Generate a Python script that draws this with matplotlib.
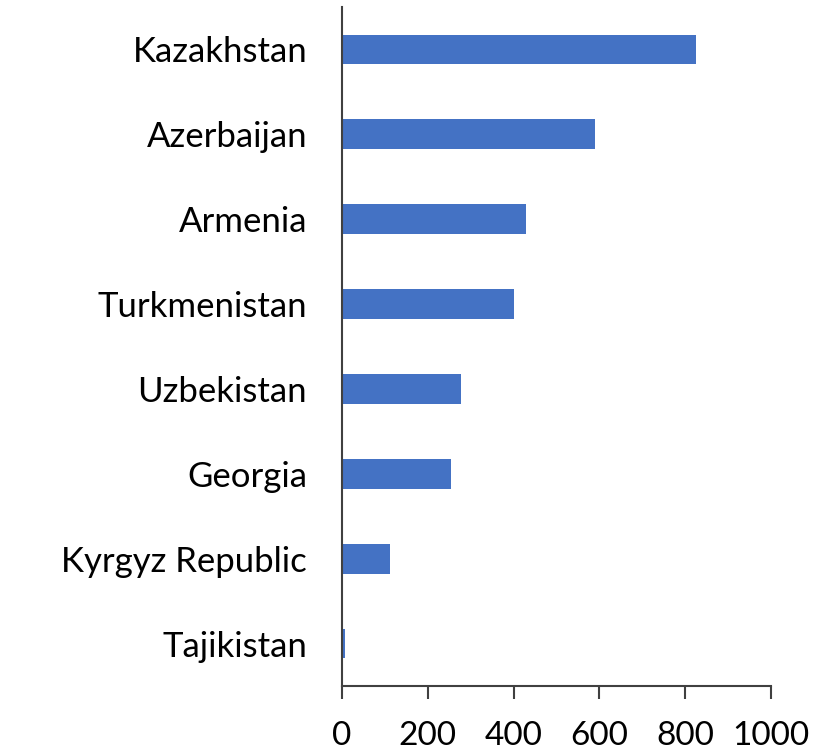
import matplotlib.pyplot as plt

# ── Data ──────────────────────────────────────
countries = ["Kazakhstan", "Azerbaijan", "Armenia", "Turkmenistan",
             "Uzbekistan", "Georgia", "Kyrgyz Republic", "Tajikistan"]
values = [825, 590, 429, 401, 277, 254, 112, 7]
xticks = [0, 200, 400, 600, 800, 1000]

plt.rcParams["font.family"] = ["Lato", "DejaVu Sans"]

fig = plt.figure(figsize=(8.18, 7.5), dpi=100)
ax = fig.add_axes([0.418, 0.0853, 0.5245, 0.9054])

pos = list(range(len(countries)))[::-1]
ax.barh(pos, values, height=0.35, color="#4472C4")

ax.set_xlim(0, 1000)
ax.set_ylim(-0.5, len(countries) - 0.5)
ax.set_yticks(pos)
ax.set_yticklabels(countries, fontsize=25)
ax.set_xticks(xticks)
ax.set_xticklabels([str(t) for t in xticks], fontsize=24)

ax.tick_params(axis="y", length=0, pad=25)
ax.tick_params(axis="x", direction="out", length=9, width=1.5, color="#404040", pad=16)

for side in ["top", "right"]:
    ax.spines[side].set_visible(False)
for side in ["left", "bottom"]:
    ax.spines[side].set_color("#404040")
    ax.spines[side].set_linewidth(1.5)

fig.savefig("out.png", dpi=100)
